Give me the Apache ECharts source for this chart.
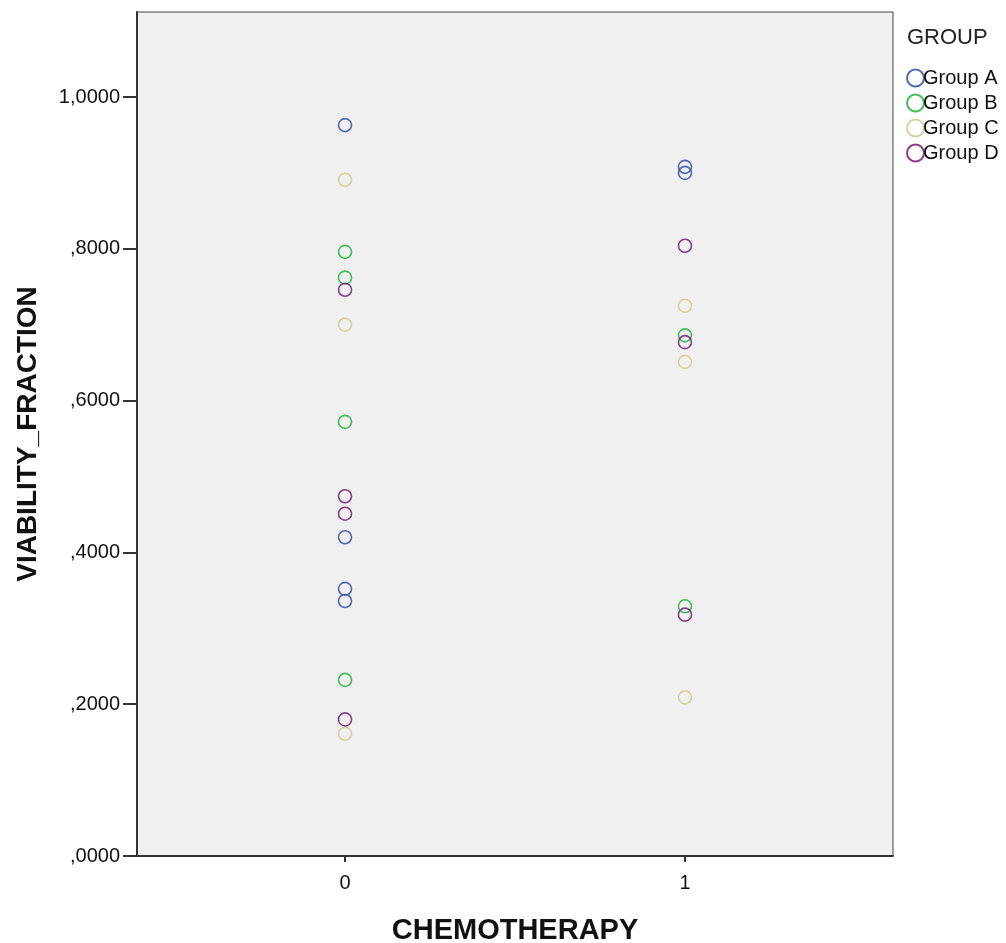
<!DOCTYPE html>
<html><head><meta charset="utf-8">
<script src="https://cdn.jsdelivr.net/npm/echarts@6/dist/echarts.min.js"></script>
<style>html,body{margin:0;padding:0;background:#fff}#c{width:1006px;height:943px}</style>
</head><body><div id="c"></div>
<script>
const groups = ['Group A','Group B','Group C','Group D'];
const colors = ['#3E58AC','#2EB848','#D3CE97','#7C287D'];
// [chemotherapy, viability_fraction]
const groupA = [[0,0.963],[0,0.420],[0,0.352],[0,0.336],[1,0.908],[1,0.900]];
const groupB = [[0,0.796],[0,0.762],[0,0.572],[0,0.232],[1,0.686],[1,0.329]];
const groupC = [[0,0.891],[0,0.700],[0,0.161],[1,0.725],[1,0.651],[1,0.209]];
const groupD = [[0,0.746],[0,0.474],[0,0.451],[0,0.180],[1,0.804],[1,0.677],[1,0.318]];
const xTicks = [0,1];
const yTicks = [0,0.2,0.4,0.6,0.8,1.0];
const seriesData = [groupA,groupB,groupC,groupD];

function fmtY(v){
  let s = v.toFixed(4).replace('.',',');
  if (s.startsWith('0,')) s = s.slice(1);
  return s;
}
const chart = echarts.init(document.getElementById('c'));
chart.setOption({
  animation:false,
  backgroundColor:'#fff',
  textStyle:{fontFamily:'Liberation Sans, Arial, sans-serif'},
  graphic:[{type:'text',left:907,top:27,style:{text:'GROUP',fontSize:22,fill:'#222',fontFamily:'Liberation Sans, Arial, sans-serif'}}],
  legend:{
    orient:'vertical',left:901,top:63,itemWidth:17,itemHeight:17,itemGap:5,
    icon:'circle',
    textStyle:{fontSize:20,color:'#111',padding:[0,0,0,-6]},
    data:groups
  },
  grid:{left:137,right:113,top:12,bottom:87,outerBoundsMode:'none',containLabel:false,show:true,backgroundColor:'#F0F0F0',borderColor:'#444',borderWidth:1},
  xAxis:{
    type:'value',min:-0.612,max:1.612,
    name:'CHEMOTHERAPY',nameLocation:'middle',nameGap:60,
    nameTextStyle:{fontSize:29,fontWeight:'bold',color:'#111'},
    axisLine:{onZero:false,lineStyle:{color:'#333',width:2}},
    axisTick:{show:true,length:6,lineStyle:{color:'#333',width:2},customValues:xTicks},
    axisLabel:{fontSize:20,color:'#111',margin:17,customValues:xTicks,formatter:v=>String(v)},
    splitLine:{show:false}
  },
  yAxis:{
    type:'value',min:0,max:1.112,
    name:'VIABILITY_FRACTION',nameLocation:'middle',nameGap:95,
    nameTextStyle:{fontSize:28,fontWeight:'bold',color:'#111'},
    axisLine:{show:true,onZero:false,lineStyle:{color:'#333',width:2}},
    axisTick:{show:true,length:14,lineStyle:{color:'#333',width:2},customValues:yTicks},
    axisLabel:{fontSize:20,color:'#111',margin:17,customValues:yTicks,formatter:fmtY},
    splitLine:{show:false}
  },
  series: seriesData.map((d,i)=>({
    name:groups[i],type:'scatter',data:d,symbol:'circle',symbolSize:13,
    itemStyle:{color:'transparent',borderColor:colors[i],borderWidth:1.6,opacity:0.9}
  }))
});
</script></body></html>
